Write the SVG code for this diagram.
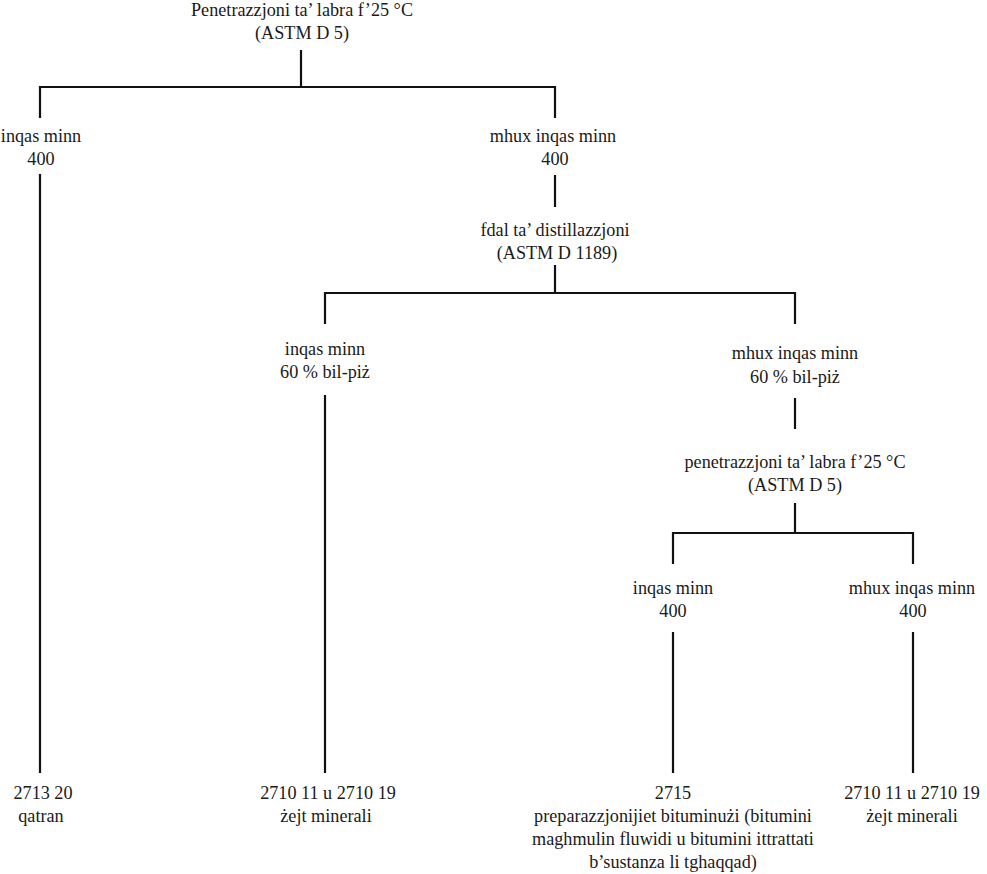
<svg xmlns="http://www.w3.org/2000/svg" width="987" height="874" viewBox="0 0 987 874">
<style>
text{font-family:"Liberation Serif","Times New Roman",serif;font-size:18.2px;fill:#1a1a1a;text-anchor:middle}
.c line{stroke:#111;stroke-width:2.2;fill:none}
</style>
<rect width="987" height="874" fill="#fff"/>
<g class="c" id="connectors">
<line x1="301" y1="50" x2="301" y2="87"/>
<line x1="39" y1="87" x2="556" y2="87"/>
<line x1="40" y1="86" x2="40" y2="118"/>
<line x1="555" y1="86" x2="555" y2="118"/>
<line x1="40" y1="174" x2="40" y2="773"/>
<line x1="555" y1="175" x2="555" y2="207"/>
<line x1="555" y1="265" x2="555" y2="293"/>
<line x1="324" y1="293" x2="796" y2="293"/>
<line x1="325" y1="292" x2="325" y2="324"/>
<line x1="795" y1="292" x2="795" y2="324"/>
<line x1="325" y1="395" x2="325" y2="773"/>
<line x1="795" y1="398" x2="795" y2="429"/>
<line x1="795" y1="503" x2="795" y2="533"/>
<line x1="672" y1="533" x2="914" y2="533"/>
<line x1="673" y1="532" x2="673" y2="564"/>
<line x1="913" y1="532" x2="913" y2="564"/>
<line x1="673" y1="632" x2="673" y2="773"/>
<line x1="913" y1="632" x2="913" y2="773"/>
</g>
<g id="n-root"><text x="302" y="16">Penetrazzjoni ta’ labra f’25 °C</text><text x="302" y="39">(ASTM D 5)</text></g>
<g id="n-lt400"><text x="41" y="142">inqas minn</text><text x="41" y="165">400</text></g>
<g id="n-ge400"><text x="553" y="142">mhux inqas minn</text><text x="555" y="165">400</text></g>
<g id="n-dist"><text x="555" y="236">fdal ta’ distillazzjoni</text><text x="557" y="259">(ASTM D 1189)</text></g>
<g id="n-lt60"><text x="325" y="355">inqas minn</text><text x="325" y="378">60 % bil-piż</text></g>
<g id="n-ge60"><text x="795" y="359">mhux inqas minn</text><text x="795" y="383">60 % bil-piż</text></g>
<g id="n-pen2"><text x="795" y="468">penetrazzjoni ta’ labra f’25 °C</text><text x="795" y="491">(ASTM D 5)</text></g>
<g id="n-lt400b"><text x="673" y="594">inqas minn</text><text x="673" y="617">400</text></g>
<g id="n-ge400b"><text x="912" y="594">mhux inqas minn</text><text x="913" y="617">400</text></g>
<g id="n-2713"><text x="43" y="799">2713 20</text><text x="41" y="822">qatran</text></g>
<g id="n-2710a"><text x="328" y="799">2710 11 u 2710 19</text><text x="326" y="822">żejt minerali</text></g>
<g id="n-2715"><text x="673" y="799">2715</text><text x="673" y="822">preparazzjonijiet bituminużi (bitumini</text><text x="673" y="845">maghmulin fluwidi u bitumini ittrattati</text><text x="673" y="868">b’sustanza li tghaqqad)</text></g>
<g id="n-2710b"><text x="912" y="799">2710 11 u 2710 19</text><text x="912" y="822">żejt minerali</text></g>
</svg>
